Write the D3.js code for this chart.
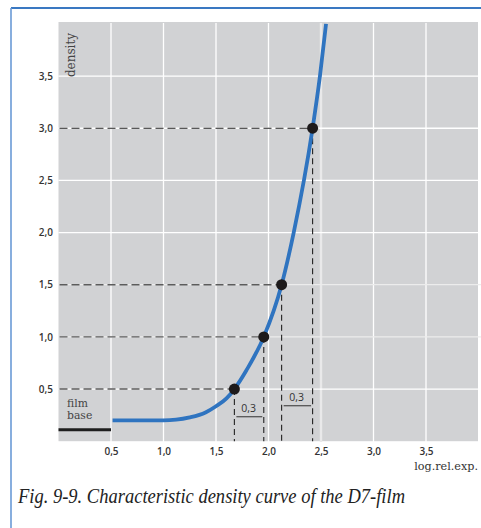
<!DOCTYPE html>
<html>
<head>
<meta charset="utf-8">
<script src="https://cdn.jsdelivr.net/npm/d3@7"></script>
<style>
  html, body { margin: 0; padding: 0; background: #ffffff; }
  svg { display: block; }
</style>
</head>
<body>
<svg id="chart" width="481" height="528"></svg>
<script>
// ---- data ----
const logExp  = [0.515, 0.87, 1.0, 1.12, 1.25, 1.4, 1.5, 1.6, 1.675, 1.79, 1.955, 2.125, 2.24, 2.42, 2.49, 2.548];
const density = [0.2,   0.2,  0.2, 0.206, 0.228, 0.275, 0.335, 0.41, 0.5, 0.68, 1.0,  1.5,   2.0,  3.0,  3.5,  4.0];
const markX = [1.675, 1.955, 2.125, 2.42];
const markY = [0.5, 1.0, 1.5, 3.0];
const spanFrom = [1.675, 2.125];
const spanTo   = [1.955, 2.42];
const spanLabel = ["0,3", "0,3"];
const xTicks = [0.5, 1.0, 1.5, 2.0, 2.5, 3.0, 3.5];
const yTicks = [0.5, 1.0, 1.5, 2.0, 2.5, 3.0, 3.5];
const filmBase = [0, 0.5];
const filmBaseD = 0.11;
const xTitle = "log.rel.exp.";
const yTitle = "density";
const caption = "Fig. 9-9. Characteristic density curve of the D7-film";

const svg = d3.select("#chart");
const x = d3.scaleLinear().domain([0, 4]).range([58.5, 478.5]);
const y = d3.scaleLinear().domain([0, 4]).range([441.2, 23.9]);
const fmt = d => d.toFixed(1).replace(".", ",");

// frame
svg.append("line").attr("x1", 11).attr("x2", 481).attr("y1", 8).attr("y2", 8)
  .attr("stroke", "#3a78c2").attr("stroke-width", 2);
svg.append("line").attr("x1", 11).attr("x2", 11).attr("y1", 8).attr("y2", 528)
  .attr("stroke", "#6a9ad6").attr("stroke-width", 1.6);

// plot background
svg.append("rect").attr("x", x(0)).attr("y", 22).attr("width", 478 - x(0)).attr("height", 441.2 - 22)
  .attr("fill", "#d1d2d4");

// grid
svg.append("g").selectAll("line").data(xTicks).join("line")
  .attr("x1", d => x(d)).attr("x2", d => x(d)).attr("y1", 23).attr("y2", 442)
  .attr("stroke", d => d === 2.5 ? "#e9e9ea" : "#ffffff")
  .attr("stroke-width", d => d === 2.5 ? 2.4 : 1.3);
svg.append("g").selectAll("line").data(yTicks).join("line")
  .attr("x1", x(0)).attr("x2", 481).attr("y1", d => y(d)).attr("y2", d => y(d))
  .attr("stroke", d => d === 1.5 || d === 1.0 ? "#ececec" : "#ffffff").attr("stroke-width", 1.3);

// clip
svg.append("clipPath").attr("id", "plotclip").append("rect")
  .attr("x", x(0)).attr("y", 22).attr("width", 478 - x(0)).attr("height", 441.2 - 22);

// dashed guides
const marks = markX.map((mx, i) => ({x: mx, y: markY[i]}));
svg.append("g").selectAll("line").data(marks).join("line")
  .attr("x1", x(0) + 1).attr("x2", d => x(d.x)).attr("y1", d => y(d.y)).attr("y2", d => y(d.y))
  .attr("stroke", d => d.y === 3.0 ? "#222" : "#5c5c5c")
  .attr("stroke-width", d => d.y === 3.0 ? 1.1 : 1.4)
  .attr("stroke-dasharray", "8,4");
svg.append("g").selectAll("line").data(marks).join("line")
  .attr("x1", d => x(d.x)).attr("x2", d => x(d.x)).attr("y1", d => y(d.y)).attr("y2", y(0))
  .attr("stroke", "#222").attr("stroke-width", 1.1)
  .attr("stroke-dasharray", "6,4");

// film base line
svg.append("line")
  .attr("x1", x(filmBase[0])).attr("x2", x(filmBase[1]))
  .attr("y1", y(filmBaseD)).attr("y2", y(filmBaseD))
  .attr("stroke", "#1e1e1e").attr("stroke-width", 3);

// curve
const pts = logExp.map((lx, i) => [lx, density[i]]);
svg.append("path").datum(pts)
  .attr("clip-path", "url(#plotclip)")
  .attr("fill", "none").attr("stroke", "#2f74c0").attr("stroke-width", 3.8)
  .attr("d", d3.line().x(d => x(d[0])).y(d => y(d[1])).curve(d3.curveMonotoneX));

// dots
svg.append("g").selectAll("circle").data(marks).join("circle")
  .attr("cx", d => x(d.x)).attr("cy", d => y(d.y)).attr("r", 5.5)
  .attr("fill", "#1d1a1b");

// 0,3 spans
const spans = spanFrom.map((f, i) => ({from: f, to: spanTo[i], label: spanLabel[i], yy: i === 0 ? 416.7 : 405.7}));
const sg = svg.append("g");
sg.selectAll("line").data(spans).join("line")
  .attr("x1", d => x(d.from) + 2).attr("x2", d => x(d.to) - 1.5)
  .attr("y1", d => d.yy).attr("y2", d => d.yy)
  .attr("stroke", "#555").attr("stroke-width", 1.3);
sg.selectAll("text").data(spans).join("text")
  .attr("x", d => (x(d.from) + x(d.to)) / 2 - 0.5).attr("y", d => d.yy - 4.5)
  .attr("text-anchor", "middle")
  .attr("font-family", "'Open Sans', sans-serif").attr("font-size", 10.5).attr("fill", "#333")
  .text(d => d.label);

// axes (labels only)
const xAxis = svg.append("g").attr("transform", `translate(0,${y(0)})`)
  .call(d3.axisBottom(x).tickValues(xTicks).tickSize(0).tickPadding(7).tickFormat(fmt));
xAxis.select(".domain").remove();
xAxis.selectAll("text").attr("font-family", "'Open Sans', sans-serif").attr("font-size", 10)
  .attr("font-weight", 600).attr("fill", "#333");

const yAxis = svg.append("g").attr("transform", `translate(${x(0)},0)`)
  .call(d3.axisLeft(y).tickValues(yTicks).tickSize(0).tickPadding(5.5).tickFormat(fmt));
yAxis.select(".domain").remove();
yAxis.selectAll("text").attr("font-family", "'Open Sans', sans-serif").attr("font-size", 10)
  .attr("font-weight", 600).attr("fill", "#333");

// axis titles
svg.append("text").attr("x", 478).attr("y", 469.5).attr("text-anchor", "end")
  .attr("font-family", "'DejaVu Serif', serif").attr("font-size", 11.2).attr("fill", "#333")
  .text(xTitle);
svg.append("text").attr("transform", "translate(75,33) rotate(-90)").attr("text-anchor", "end")
  .attr("font-family", "'DejaVu Serif', serif").attr("font-size", 12).attr("fill", "#444")
  .text(yTitle);

// film base label
const fb = svg.append("text").attr("font-family", "'DejaVu Serif', serif").attr("font-size", 10.8).attr("fill", "#444");
fb.append("tspan").attr("x", 67).attr("y", 407).text("film");
fb.append("tspan").attr("x", 67).attr("y", 418.5).text("base");

// caption
svg.append("text").attr("x", 18).attr("y", 503)
  .attr("font-family", "'Liberation Serif', serif").attr("font-style", "italic")
  .attr("font-size", 21).attr("fill", "#222")
  .attr("textLength", 387).attr("lengthAdjust", "spacingAndGlyphs")
  .text(caption);
</script>
</body>
</html>
